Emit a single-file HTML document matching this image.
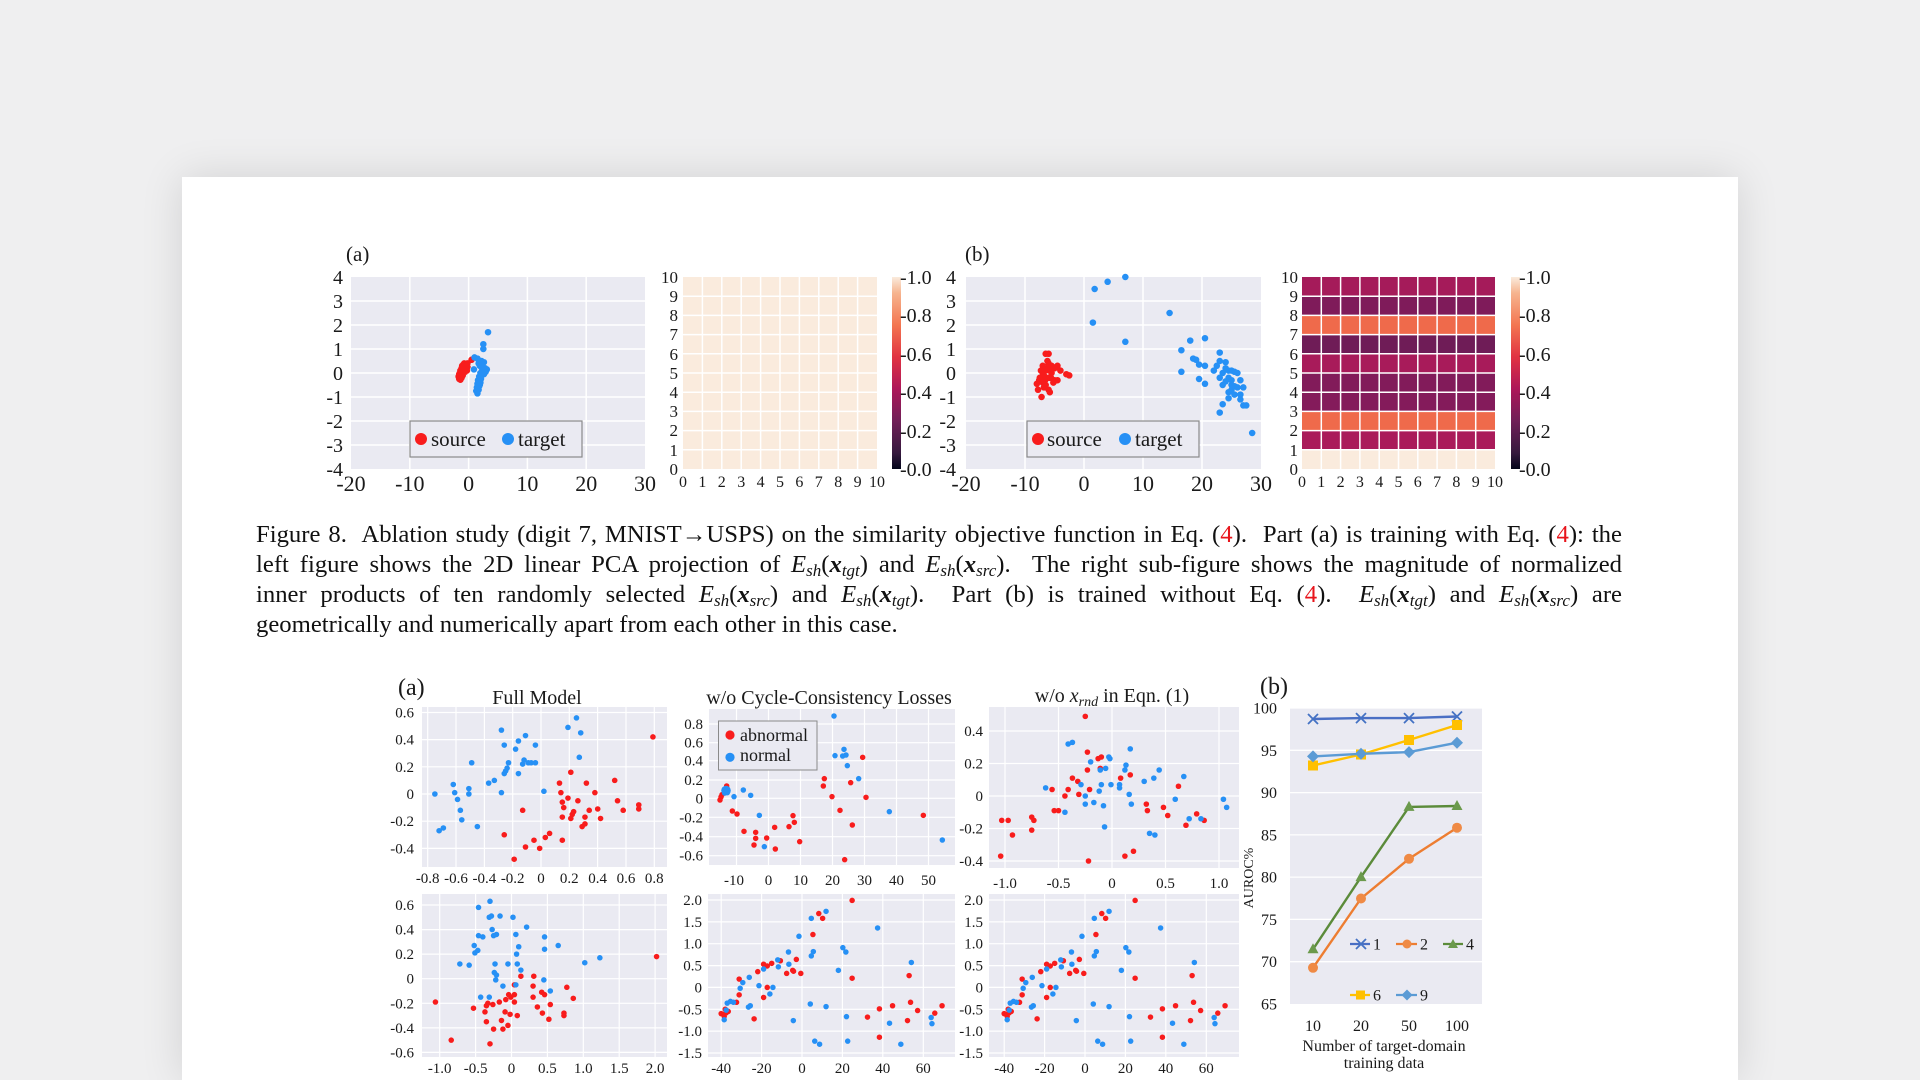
<!DOCTYPE html>
<html><head><meta charset="utf-8">
<style>
html,body{margin:0;padding:0;width:1920px;height:1080px;overflow:hidden}
body{background:#efeff0;position:relative;font-family:"Liberation Serif",serif}
.page{position:absolute;left:182px;top:177px;width:1556px;height:903px;background:#fff;box-shadow:0 0 40px rgba(0,0,0,0.12)}
svg{position:absolute;left:0;top:0}
.cap{position:absolute;left:256px;top:520px;width:1366px;font-family:"Liberation Serif",serif;font-size:24.7px;line-height:30px;color:#111}
.cap div{height:30px;text-align:justify;text-align-last:justify;white-space:nowrap}
.cap div.last{text-align:left;text-align-last:left}
.cap sub{font-size:17px;line-height:0;vertical-align:-4px;font-style:italic}
.cap .E{font-style:italic}
.cap .x{font-style:italic;font-weight:bold}
.cap .r{color:#e8141b}
text{font-family:"Liberation Serif",serif;fill:#1a1a1a}
</style></head>
<body>
<div class="page"></div>
<svg width="1920" height="1080" viewBox="0 0 1920 1080">
<defs>
<linearGradient id="rocket" x1="0" y1="1" x2="0" y2="0">
<stop offset="0" stop-color="#03051a"/>
<stop offset="0.083" stop-color="#35193e"/>
<stop offset="0.25" stop-color="#701f57"/>
<stop offset="0.417" stop-color="#ad1759"/>
<stop offset="0.583" stop-color="#e13342"/>
<stop offset="0.75" stop-color="#f37651"/>
<stop offset="0.917" stop-color="#f6b48f"/>
<stop offset="1" stop-color="#faebdd"/>
</linearGradient>
</defs>

<!-- ============ TOP FIGURE ============ -->
<text x="346" y="261" font-size="21">(a)</text>
<text x="965" y="261" font-size="21">(b)</text>

<!-- Scatter (a) -->
<rect x="351" y="277" width="294" height="192" fill="#eaeaf2"/>
<g stroke="#fff" stroke-width="1.5">
<line x1="409.8" y1="277" x2="409.8" y2="469"/><line x1="468.6" y1="277" x2="468.6" y2="469"/><line x1="527.4" y1="277" x2="527.4" y2="469"/><line x1="586.2" y1="277" x2="586.2" y2="469"/>
<line x1="351" y1="301" x2="645" y2="301"/><line x1="351" y1="325" x2="645" y2="325"/><line x1="351" y1="349" x2="645" y2="349"/><line x1="351" y1="373" x2="645" y2="373"/><line x1="351" y1="397" x2="645" y2="397"/><line x1="351" y1="421" x2="645" y2="421"/><line x1="351" y1="445" x2="645" y2="445"/>
</g>
<g transform="translate(468.6,373) scale(5.88,-24)" fill="none" stroke-linecap="round">
<path vector-effect="non-scaling-stroke" stroke="#f81c1c" stroke-width="6.5" d="M-1.6 -0.25h.01M-1.5 -0.2h.01M-1.4 -0.28h.01M-1.3 -0.15h.01M-1.6 -0.05h.01M-1.5 0h.01M-1.3 0.05h.01M-1.2 -0.05h.01M-1.1 0.1h.01M-1 0.15h.01M-0.9 0.2h.01M-0.8 0.25h.01M-0.7 0.3h.01M-0.6 0.35h.01M-0.45 0.38h.01M-0.3 0.32h.01M-0.2 0.25h.01M-1 -0.1h.01M-0.9 0h.01M-0.8 0.1h.01M-0.6 0.15h.01M-0.5 0.25h.01M-0.4 0.2h.01M-0.3 0.1h.01M-0.6 0.05h.01M-1.2 0.2h.01M-1.1 0.3h.01M-0.9 0.35h.01M-0.75 0.4h.01M-1.4 0.1h.01M0.5 0.55h.01M-0.2 0.4h.01M-1.7 -0.15h.01M-1.2 -0.2h.01"/>
<path vector-effect="non-scaling-stroke" stroke="#2690f5" stroke-width="6.5" d="M3.3 1.7h.01M2.5 1.2h.01M2.5 1h.01M1 0.65h.01M1.5 0.6h.01M2.2 0.5h.01M2.6 0.45h.01M1.9 0.3h.01M2.8 0.2h.01M3.1 0.15h.01M0.9 0.15h.01M2.3 0.1h.01M2.5 0.05h.01M2 0h.01M2.2 -0.1h.01M1.8 -0.15h.01M2.1 -0.25h.01M1.6 -0.3h.01M2 -0.4h.01M1.5 -0.45h.01M1.8 -0.55h.01M1.4 -0.6h.01M1.7 -0.7h.01M1.3 -0.75h.01M1.5 -0.85h.01M2.4 0.3h.01M1.7 0.4h.01M2.9 0.05h.01M2.6 -0.05h.01M1.9 -0.5h.01"/>
</g>
<rect x="410" y="421" width="172" height="36" fill="#eaeaf2" stroke="#8a8a8a" stroke-width="1.2"/>
<circle cx="421" cy="439" r="6" fill="#f81c1c"/><text x="431" y="446" font-size="21">source</text>
<circle cx="508" cy="439" r="6" fill="#2690f5"/><text x="518" y="446" font-size="21">target</text>
<g font-size="20" text-anchor="end">
<text x="343" y="284">4</text><text x="343" y="308">3</text><text x="343" y="332">2</text><text x="343" y="356">1</text><text x="343" y="380">0</text><text x="343" y="404">-1</text><text x="343" y="428">-2</text><text x="343" y="452">-3</text><text x="343" y="476">-4</text>
</g>
<g font-size="22" text-anchor="middle">
<text x="351" y="491">-20</text><text x="409.8" y="491">-10</text><text x="468.6" y="491">0</text><text x="527.4" y="491">10</text><text x="586.2" y="491">20</text><text x="645" y="491">30</text>
</g>

<!-- Heatmap (a) -->
<rect x="683" y="277" width="194" height="192" fill="#faebdd"/>
<g stroke="#fff" stroke-width="1.5">
<line x1="702.4" y1="277" x2="702.4" y2="469"/><line x1="721.8" y1="277" x2="721.8" y2="469"/><line x1="741.2" y1="277" x2="741.2" y2="469"/><line x1="760.6" y1="277" x2="760.6" y2="469"/><line x1="780" y1="277" x2="780" y2="469"/><line x1="799.4" y1="277" x2="799.4" y2="469"/><line x1="818.8" y1="277" x2="818.8" y2="469"/><line x1="838.2" y1="277" x2="838.2" y2="469"/><line x1="857.6" y1="277" x2="857.6" y2="469"/>
<line x1="683" y1="296.2" x2="877" y2="296.2"/><line x1="683" y1="315.4" x2="877" y2="315.4"/><line x1="683" y1="334.6" x2="877" y2="334.6"/><line x1="683" y1="353.8" x2="877" y2="353.8"/><line x1="683" y1="373" x2="877" y2="373"/><line x1="683" y1="392.2" x2="877" y2="392.2"/><line x1="683" y1="411.4" x2="877" y2="411.4"/><line x1="683" y1="430.6" x2="877" y2="430.6"/><line x1="683" y1="449.8" x2="877" y2="449.8"/>
</g>
<g font-size="17" text-anchor="end">
<text x="678" y="283">10</text><text x="678" y="302">9</text><text x="678" y="321">8</text><text x="678" y="340">7</text><text x="678" y="360">6</text><text x="678" y="379">5</text><text x="678" y="398">4</text><text x="678" y="417">3</text><text x="678" y="436">2</text><text x="678" y="456">1</text><text x="678" y="475">0</text>
</g>
<g font-size="16" text-anchor="middle">
<text x="683" y="487">0</text><text x="702.4" y="487">1</text><text x="721.8" y="487">2</text><text x="741.2" y="487">3</text><text x="760.6" y="487">4</text><text x="780" y="487">5</text><text x="799.4" y="487">6</text><text x="818.8" y="487">7</text><text x="838.2" y="487">8</text><text x="857.6" y="487">9</text><text x="877" y="487">10</text>
</g>
<rect x="892" y="277" width="9" height="192" fill="url(#rocket)"/>
<g font-size="20">
<text x="900" y="284">-1.0</text><text x="900" y="322">-0.8</text><text x="900" y="361">-0.6</text><text x="900" y="399">-0.4</text><text x="900" y="438">-0.2</text><text x="900" y="476">-0.0</text>
</g>

<!-- Scatter (b) -->
<rect x="966" y="277" width="295" height="192" fill="#eaeaf2"/>
<g stroke="#fff" stroke-width="1.5">
<line x1="1025" y1="277" x2="1025" y2="469"/><line x1="1084" y1="277" x2="1084" y2="469"/><line x1="1143" y1="277" x2="1143" y2="469"/><line x1="1202" y1="277" x2="1202" y2="469"/>
<line x1="966" y1="301" x2="1261" y2="301"/><line x1="966" y1="325" x2="1261" y2="325"/><line x1="966" y1="349" x2="1261" y2="349"/><line x1="966" y1="373" x2="1261" y2="373"/><line x1="966" y1="397" x2="1261" y2="397"/><line x1="966" y1="421" x2="1261" y2="421"/><line x1="966" y1="445" x2="1261" y2="445"/>
</g>
<g transform="translate(1084,373) scale(5.9,-24)" fill="none" stroke-linecap="round">
<path vector-effect="non-scaling-stroke" stroke="#f81c1c" stroke-width="6.5" d="M-6.5 0.8h.01M-6 0.8h.01M-6 0.4h.01M-5.5 0.3h.01M-5 0.2h.01M-4.5 0.3h.01M-4 0.1h.01M-3 -0.05h.01M-2.5 -0.1h.01M-7 0h.01M-7.5 -0.2h.01M-8 -0.45h.01M-7.8 -0.7h.01M-7.2 -1h.01M-6.5 -0.5h.01M-6 -0.7h.01M-5.8 -0.8h.01M-5 -0.3h.01M-4.5 -0.3h.01M-7 0.3h.01M-6.5 0.1h.01M-6 -0.2h.01M-7 -0.4h.01M-6.8 -0.1h.01M-5.5 0h.01M-6.2 0.5h.01M-7.3 0.1h.01M-6.8 -0.6h.01M-5.2 -0.4h.01M-6.3 0.2h.01M-5.8 0.1h.01M-7.6 -0.3h.01M-6.6 -0.3h.01M-5.6 -0.2h.01M-6.9 0.15h.01"/>
<path vector-effect="non-scaling-stroke" stroke="#2690f5" stroke-width="6.5" d="M1.8 3.5h.01M4 3.8h.01M7 4h.01M1.5 2.1h.01M7 1.3h.01M14.5 2.5h.01M16.5 0.95h.01M18 1.35h.01M20.5 1.45h.01M18.5 0.6h.01M19 0.55h.01M19.5 0.35h.01M20.5 0.3h.01M16.5 0.05h.01M19.5 -0.25h.01M20.5 -0.45h.01M22 0.1h.01M22.5 0.3h.01M23 0.5h.01M23 0.85h.01M24 0.45h.01M24 0.2h.01M23.5 0h.01M24.5 0.1h.01M25 0.1h.01M25.5 0.05h.01M26 0h.01M26.5 -0.3h.01M23 -0.2h.01M24 -0.35h.01M25 -0.5h.01M25.5 -0.55h.01M25 -0.7h.01M24.5 -0.8h.01M26 -0.6h.01M25.5 -0.9h.01M24.5 -1.05h.01M26.5 -0.9h.01M26.5 -1.1h.01M27 -0.6h.01M27 -1.35h.01M27.5 -1.35h.01M23.5 -1.3h.01M23 -1.65h.01M28.5 -2.5h.01M23.5 -0.5h.01M25 -0.3h.01M24.5 -0.2h.01"/>
</g>
<rect x="1027" y="421" width="172" height="36" fill="#eaeaf2" stroke="#8a8a8a" stroke-width="1.2"/>
<circle cx="1038" cy="439" r="6" fill="#f81c1c"/><text x="1047" y="446" font-size="21">source</text>
<circle cx="1125" cy="439" r="6" fill="#2690f5"/><text x="1135" y="446" font-size="21">target</text>
<g font-size="20" text-anchor="end">
<text x="956" y="284">4</text><text x="956" y="308">3</text><text x="956" y="332">2</text><text x="956" y="356">1</text><text x="956" y="380">0</text><text x="956" y="404">-1</text><text x="956" y="428">-2</text><text x="956" y="452">-3</text><text x="956" y="476">-4</text>
</g>
<g font-size="22" text-anchor="middle">
<text x="966" y="491">-20</text><text x="1025" y="491">-10</text><text x="1084" y="491">0</text><text x="1143" y="491">10</text><text x="1202" y="491">20</text><text x="1261" y="491">30</text>
</g>

<!-- Heatmap (b) -->
<rect x="1302" y="277" width="193" height="19.2" fill="#a51b5a"/>
<rect x="1302" y="296.2" width="193" height="19.2" fill="#7f1b5a"/>
<rect x="1302" y="315.4" width="193" height="19.2" fill="#ef6a4b"/>
<rect x="1302" y="334.6" width="193" height="19.2" fill="#6f1c57"/>
<rect x="1302" y="353.8" width="193" height="19.2" fill="#a81b5a"/>
<rect x="1302" y="373" width="193" height="19.2" fill="#821b5a"/>
<rect x="1302" y="392.2" width="193" height="19.2" fill="#841b5b"/>
<rect x="1302" y="411.4" width="193" height="19.2" fill="#ef6a4b"/>
<rect x="1302" y="430.6" width="193" height="19.2" fill="#aa1b5a"/>
<rect x="1302" y="449.8" width="193" height="19.2" fill="#faebdd"/>
<g stroke="#fff" stroke-width="1.5">
<line x1="1321.3" y1="277" x2="1321.3" y2="469"/><line x1="1340.6" y1="277" x2="1340.6" y2="469"/><line x1="1359.9" y1="277" x2="1359.9" y2="469"/><line x1="1379.2" y1="277" x2="1379.2" y2="469"/><line x1="1398.5" y1="277" x2="1398.5" y2="469"/><line x1="1417.8" y1="277" x2="1417.8" y2="469"/><line x1="1437.1" y1="277" x2="1437.1" y2="469"/><line x1="1456.4" y1="277" x2="1456.4" y2="469"/><line x1="1475.7" y1="277" x2="1475.7" y2="469"/>
<line x1="1302" y1="296.2" x2="1495" y2="296.2"/><line x1="1302" y1="315.4" x2="1495" y2="315.4"/><line x1="1302" y1="334.6" x2="1495" y2="334.6"/><line x1="1302" y1="353.8" x2="1495" y2="353.8"/><line x1="1302" y1="373" x2="1495" y2="373"/><line x1="1302" y1="392.2" x2="1495" y2="392.2"/><line x1="1302" y1="411.4" x2="1495" y2="411.4"/><line x1="1302" y1="430.6" x2="1495" y2="430.6"/><line x1="1302" y1="449.8" x2="1495" y2="449.8"/>
</g>
<g font-size="17" text-anchor="end">
<text x="1298" y="283">10</text><text x="1298" y="302">9</text><text x="1298" y="321">8</text><text x="1298" y="340">7</text><text x="1298" y="360">6</text><text x="1298" y="379">5</text><text x="1298" y="398">4</text><text x="1298" y="417">3</text><text x="1298" y="436">2</text><text x="1298" y="456">1</text><text x="1298" y="475">0</text>
</g>
<g font-size="16" text-anchor="middle">
<text x="1302" y="487">0</text><text x="1321.3" y="487">1</text><text x="1340.6" y="487">2</text><text x="1359.9" y="487">3</text><text x="1379.2" y="487">4</text><text x="1398.5" y="487">5</text><text x="1417.8" y="487">6</text><text x="1437.1" y="487">7</text><text x="1456.4" y="487">8</text><text x="1475.7" y="487">9</text><text x="1495" y="487">10</text>
</g>
<rect x="1511" y="277" width="9" height="192" fill="url(#rocket)"/>
<g font-size="20">
<text x="1519" y="284">-1.0</text><text x="1519" y="322">-0.8</text><text x="1519" y="361">-0.6</text><text x="1519" y="399">-0.4</text><text x="1519" y="438">-0.2</text><text x="1519" y="476">-0.0</text>
</g>

<!-- ============ BOTTOM FIGURE ============ -->
<text x="398" y="695" font-size="24">(a)</text>
<text x="1260" y="694" font-size="24">(b)</text>
<text x="537" y="704" font-size="20" text-anchor="middle">Full Model</text>
<text x="829" y="704" font-size="20" text-anchor="middle">w/o Cycle-Consistency Losses</text>
<text x="1112" y="702" font-size="20" text-anchor="middle">w/o <tspan font-style="italic">x</tspan><tspan font-style="italic" font-size="14" dy="4">rnd</tspan><tspan dy="-4"> in Eqn. (1)</tspan></text>

<!-- P1 -->
<rect x="422" y="707" width="245" height="160" fill="#eaeaf2"/>
<g stroke="#fff" stroke-width="1.2">
<line x1="427.7" y1="707" x2="427.7" y2="867"/><line x1="456" y1="707" x2="456" y2="867"/><line x1="484.4" y1="707" x2="484.4" y2="867"/><line x1="512.7" y1="707" x2="512.7" y2="867"/><line x1="541" y1="707" x2="541" y2="867"/><line x1="569.3" y1="707" x2="569.3" y2="867"/><line x1="597.6" y1="707" x2="597.6" y2="867"/><line x1="626" y1="707" x2="626" y2="867"/><line x1="654.3" y1="707" x2="654.3" y2="867"/>
<line x1="422" y1="712.5" x2="667" y2="712.5"/><line x1="422" y1="739.6" x2="667" y2="739.6"/><line x1="422" y1="766.8" x2="667" y2="766.8"/><line x1="422" y1="794" x2="667" y2="794"/><line x1="422" y1="821.2" x2="667" y2="821.2"/><line x1="422" y1="848.4" x2="667" y2="848.4"/>
</g>
<g transform="translate(541,794) scale(141.6,-135.9)" fill="none" stroke-linecap="round">
<path vector-effect="non-scaling-stroke" stroke="#f81c1c" stroke-width="5.5" d="M0.79 0.42h.001M0.52 0.1h.001M0.54 -0.05h.001M0.58 -0.12h.001M0.69 -0.08h.001M0.69 -0.11h.001M0.38 0.01h.001M0.32 0.08h.001M0.4 -0.11h.001M0.42 -0.18h.001M0.34 -0.12h.001M0.31 -0.17h.001M0.31 -0.22h.001M0.29 -0.24h.001M0.26 -0.05h.001M0.23 -0.13h.001M0.22 -0.15h.001M0.21 -0.18h.001M0.19 -0.03h.001M0.21 0.16h.001M0.13 0.08h.001M0.14 0.01h.001M0.15 -0.06h.001M0.16 -0.1h.001M0.15 -0.17h.001M0.15 -0.34h.001M0.06 -0.29h.001M0.03 -0.32h.001M-0.01 -0.4h.001M-0.05 -0.34h.001M-0.11 -0.39h.001M-0.19 -0.48h.001M-0.26 -0.3h.001M-0.13 -0.12h.001"/>
<path vector-effect="non-scaling-stroke" stroke="#2690f5" stroke-width="5.5" d="M-0.75 0h.001M-0.72 -0.27h.001M-0.69 -0.25h.001M-0.62 0.07h.001M-0.61 0.01h.001M-0.59 -0.04h.001M-0.57 -0.12h.001M-0.56 -0.19h.001M-0.51 0.04h.001M-0.51 0h.001M-0.49 0.23h.001M-0.45 -0.24h.001M-0.37 0.08h.001M-0.33 0.1h.001M-0.28 0.01h.001M-0.28 0.47h.001M-0.26 0.36h.001M-0.26 0.15h.001M-0.25 0.17h.001M-0.24 0.19h.001M-0.23 0.23h.001M-0.18 0.33h.001M-0.16 0.39h.001M-0.16 0.15h.001M-0.13 0.22h.001M-0.12 0.25h.001M-0.11 0.43h.001M-0.09 0.23h.001M-0.07 0.23h.001M-0.04 0.36h.001M-0.04 0.23h.001M0.02 0.02h.001M0.19 0.49h.001M0.25 0.56h.001M0.28 0.45h.001M0.27 0.27h.001"/>
</g>
<g font-size="15" text-anchor="end">
<text x="414" y="717.5">0.6</text><text x="414" y="744.6">0.4</text><text x="414" y="771.8">0.2</text><text x="414" y="799">0</text><text x="414" y="826.2">-0.2</text><text x="414" y="853.4">-0.4</text>
</g>
<g font-size="15" text-anchor="middle">
<text x="427.7" y="883">-0.8</text><text x="456" y="883">-0.6</text><text x="484.4" y="883">-0.4</text><text x="512.7" y="883">-0.2</text><text x="541" y="883">0</text><text x="569.3" y="883">0.2</text><text x="597.6" y="883">0.4</text><text x="626" y="883">0.6</text><text x="654.3" y="883">0.8</text>
</g>

<!-- P2 -->
<rect x="709" y="709" width="246" height="156" fill="#eaeaf2"/>
<g stroke="#fff" stroke-width="1.2">
<line x1="736.5" y1="709" x2="736.5" y2="865"/><line x1="768.5" y1="709" x2="768.5" y2="865"/><line x1="800.5" y1="709" x2="800.5" y2="865"/><line x1="832.5" y1="709" x2="832.5" y2="865"/><line x1="864.5" y1="709" x2="864.5" y2="865"/><line x1="896.5" y1="709" x2="896.5" y2="865"/><line x1="928.5" y1="709" x2="928.5" y2="865"/>
<line x1="709" y1="724" x2="955" y2="724"/><line x1="709" y1="742.7" x2="955" y2="742.7"/><line x1="709" y1="760.7" x2="955" y2="760.7"/><line x1="709" y1="780" x2="955" y2="780"/><line x1="709" y1="798.3" x2="955" y2="798.3"/><line x1="709" y1="817.3" x2="955" y2="817.3"/><line x1="709" y1="836.7" x2="955" y2="836.7"/><line x1="709" y1="855.7" x2="955" y2="855.7"/>
</g>
<g transform="translate(690,700) scale(0.33333)" fill="none" stroke-linecap="round">
<path vector-effect="non-scaling-stroke" stroke="#f81c1c" stroke-width="5.5" d="M90 300h.01M93 291h.01M96 284h.01M110 258h.01M127 333h.01M141 342h.01M162 394h.01M197 397h.01M197 415h.01M192 435h.01M230 414h.01M254 382h.01M256 447h.01M297 380h.01M309 347h.01M313 367h.01M329 425h.01M400 258h.01M403 236h.01M426 290h.01M450 331h.01M482 248h.01M487 375h.01M518 172h.01M528 292h.01M464 479h.01M700 346h.01"/>
<path vector-effect="non-scaling-stroke" stroke="#2690f5" stroke-width="5.5" d="M432 48h.01M435 167h.01M462 148h.01M468 165h.01M458 168h.01M472 197h.01M506 236h.01M598 335h.01M757 420h.01M160 270h.01M182 286h.01M132 290h.01M208 346h.01M223 440h.01M103 273h.01M112 268h.01M112 278h.01M104 279h.01"/>
</g>
<circle cx="726" cy="790.5" r="4.8" fill="#2690f5"/>
<rect x="718.5" y="721" width="98.5" height="49" fill="#eaeaf2" stroke="#8a8a8a" stroke-width="1"/>
<circle cx="730" cy="735" r="4.6" fill="#f81c1c"/><text x="740" y="741" font-size="18">abnormal</text>
<circle cx="730" cy="757.3" r="4.6" fill="#2690f5"/><text x="740" y="761" font-size="18">normal</text>
<g font-size="15" text-anchor="end">
<text x="703" y="729">0.8</text><text x="703" y="747.7">0.6</text><text x="703" y="765.7">0.4</text><text x="703" y="785">0.2</text><text x="703" y="803.3">0</text><text x="703" y="822.3">-0.2</text><text x="703" y="841.7">-0.4</text><text x="703" y="860.7">-0.6</text>
</g>
<g font-size="15" text-anchor="middle">
<text x="734" y="885">-10</text><text x="768.5" y="885">0</text><text x="800.5" y="885">10</text><text x="832.5" y="885">20</text><text x="864.5" y="885">30</text><text x="896.5" y="885">40</text><text x="928.5" y="885">50</text>
</g>

<!-- P3 -->
<rect x="989" y="707" width="250" height="161" fill="#eaeaf2"/>
<g stroke="#fff" stroke-width="1.2">
<line x1="1005" y1="707" x2="1005" y2="868"/><line x1="1058.5" y1="707" x2="1058.5" y2="868"/><line x1="1112" y1="707" x2="1112" y2="868"/><line x1="1165.5" y1="707" x2="1165.5" y2="868"/><line x1="1219" y1="707" x2="1219" y2="868"/>
<line x1="989" y1="731" x2="1239" y2="731"/><line x1="989" y1="763.5" x2="1239" y2="763.5"/><line x1="989" y1="796" x2="1239" y2="796"/><line x1="989" y1="828.5" x2="1239" y2="828.5"/><line x1="989" y1="861" x2="1239" y2="861"/>
</g>
<g transform="translate(1112,796) scale(107.1,-162.5)" fill="none" stroke-linecap="round">
<path vector-effect="non-scaling-stroke" stroke="#f81c1c" stroke-width="5.5" d="M-0.25 0.49h.001M-0.23 0.27h.001M-0.23 0.16h.001M-0.13 0.23h.001M-0.1 0.24h.001M-0.11 0.17h.001M-0.37 0.11h.001M-0.32 0.09h.001M-0.41 0.04h.001M-0.31 0.01h.001M-0.21 0.04h.001M-0.44 0h.001M-0.54 -0.09h.001M-0.5 -0.09h.001M-0.56 0.04h.001M-1.03 -0.15h.001M-0.97 -0.15h.001M-0.93 -0.24h.001M-0.75 -0.13h.001M-0.73 -0.15h.001M-0.75 -0.21h.001M-1.04 -0.37h.001M-0.22 -0.4h.001M0.08 0.11h.001M0.17 0.13h.001M0.2 -0.34h.001M0.12 -0.37h.001M0.32 -0.05h.001M0.33 -0.09h.001M0.48 -0.07h.001M0.52 -0.12h.001M0.62 0.06h.001M0.69 -0.18h.001M0.79 -0.11h.001M0.86 -0.15h.001"/>
<path vector-effect="non-scaling-stroke" stroke="#2690f5" stroke-width="5.5" d="M-0.41 0.32h.001M-0.37 0.33h.001M-0.62 0.05h.001M-0.44 -0.1h.001M-0.29 0.07h.001M-0.25 0h.001M-0.25 -0.05h.001M-0.2 0.21h.001M-0.17 -0.04h.001M-0.12 0.03h.001M-0.11 0.16h.001M-0.1 0.07h.001M-0.08 -0.06h.001M-0.07 -0.19h.001M-0.06 0.17h.001M-0.03 0.24h.001M-0.02 0.23h.001M-0.01 0.07h.001M0.07 0.07h.001M0.07 0.05h.001M0.12 0.16h.001M0.13 0.19h.001M0.16 0.01h.001M0.17 0.29h.001M0.18 -0.05h.001M0.3 0.09h.001M0.39 0.11h.001M0.44 0.16h.001M0.35 -0.23h.001M0.4 -0.24h.001M0.59 -0.02h.001M0.67 0.12h.001M0.72 -0.14h.001M0.83 -0.14h.001M1.04 -0.02h.001M1.07 -0.07h.001"/>
</g>
<g font-size="15" text-anchor="end">
<text x="983" y="736">0.4</text><text x="983" y="768.5">0.2</text><text x="983" y="801">0</text><text x="983" y="833.5">-0.2</text><text x="983" y="866">-0.4</text>
</g>
<g font-size="15" text-anchor="middle">
<text x="1005" y="888">-1.0</text><text x="1058.5" y="888">-0.5</text><text x="1112" y="888">0</text><text x="1165.5" y="888">0.5</text><text x="1219" y="888">1.0</text>
</g>

<!-- P4 -->
<rect x="422" y="894" width="245" height="163" fill="#eaeaf2"/>
<g stroke="#fff" stroke-width="1.2">
<line x1="439.7" y1="894" x2="439.7" y2="1057"/><line x1="475.6" y1="894" x2="475.6" y2="1057"/><line x1="511.5" y1="894" x2="511.5" y2="1057"/><line x1="547.4" y1="894" x2="547.4" y2="1057"/><line x1="583.3" y1="894" x2="583.3" y2="1057"/><line x1="619.2" y1="894" x2="619.2" y2="1057"/><line x1="655.1" y1="894" x2="655.1" y2="1057"/>
<line x1="422" y1="905" x2="667" y2="905"/><line x1="422" y1="929.6" x2="667" y2="929.6"/><line x1="422" y1="954.1" x2="667" y2="954.1"/><line x1="422" y1="978.7" x2="667" y2="978.7"/><line x1="422" y1="1003.3" x2="667" y2="1003.3"/><line x1="422" y1="1027.9" x2="667" y2="1027.9"/><line x1="422" y1="1052.4" x2="667" y2="1052.4"/>
</g>
<g transform="translate(511.5,978.7) scale(71.8,-122.9)" fill="none" stroke-linecap="round">
<path vector-effect="non-scaling-stroke" stroke="#f81c1c" stroke-width="5.5" d="M2.02 0.18h.001M-1.06 -0.19h.001M-0.84 -0.5h.001M-0.53 -0.24h.001M-0.35 -0.22h.001M-0.33 -0.2h.001M-0.37 -0.27h.001M-0.35 -0.35h.001M-0.25 -0.41h.001M-0.3 -0.53h.001M-0.17 -0.19h.001M-0.14 -0.34h.001M-0.12 -0.41h.001M-0.05 -0.38h.001M-0.09 -0.27h.001M-0.08 -0.17h.001M-0.04 -0.13h.001M-0.01 -0.15h.001M0.04 -0.13h.001M0.04 -0.19h.001M-0.02 -0.29h.001M0.08 -0.3h.001M0.04 -0.05h.001M0.13 0.02h.001M0.3 -0.06h.001M0.31 0.02h.001M0.3 -0.15h.001M0.36 -0.23h.001M0.42 -0.11h.001M0.46 -0.13h.001M0.43 -0.28h.001M0.54 -0.21h.001M0.52 -0.33h.001M0.73 -0.28h.001M0.73 -0.3h.001M0.77 -0.07h.001M0.86 -0.16h.001M-0.26 -0.21h.001"/>
<path vector-effect="non-scaling-stroke" stroke="#2690f5" stroke-width="5.5" d="M-0.3 0.63h.001M-0.46 0.58h.001M-0.31 0.5h.001M-0.28 0.51h.001M-0.16 0.51h.001M0.02 0.5h.001M0.21 0.42h.001M-0.27 0.4h.001M-0.46 0.35h.001M-0.4 0.34h.001M-0.25 0.35h.001M-0.21 0.36h.001M0.06 0.36h.001M0.46 0.34h.001M0.46 0.24h.001M-0.52 0.27h.001M-0.47 0.23h.001M-0.51 0.21h.001M0.1 0.26h.001M0.65 0.27h.001M-0.72 0.12h.001M-0.59 0.11h.001M-0.23 0.12h.001M-0.05 0.12h.001M0.07 0.2h.001M0.08 0.12h.001M0.13 0.07h.001M-0.24 0.05h.001M-0.21 0.03h.001M-0.22 -0.01h.001M-0.12 -0.06h.001M0.06 -0.05h.001M0.45 -0.01h.001M0.54 -0.1h.001M-0.43 -0.15h.001M-0.31 -0.15h.001M1.02 0.13h.001M1.23 0.17h.001"/>
</g>
<g font-size="15" text-anchor="end">
<text x="414" y="910">0.6</text><text x="414" y="934.6">0.4</text><text x="414" y="959.1">0.2</text><text x="414" y="983.7">0</text><text x="414" y="1008.3">-0.2</text><text x="414" y="1032.9">-0.4</text><text x="414" y="1057.4">-0.6</text>
</g>
<g font-size="15" text-anchor="middle">
<text x="439.7" y="1073">-1.0</text><text x="475.6" y="1073">-0.5</text><text x="511.5" y="1073">0</text><text x="547.4" y="1073">0.5</text><text x="583.3" y="1073">1.0</text><text x="619.2" y="1073">1.5</text><text x="655.1" y="1073">2.0</text>
</g>

<!-- P5 -->
<rect x="708" y="894" width="247" height="163" fill="#eaeaf2"/>
<g stroke="#fff" stroke-width="1.2">
<line x1="721.2" y1="894" x2="721.2" y2="1057"/><line x1="761.6" y1="894" x2="761.6" y2="1057"/><line x1="802" y1="894" x2="802" y2="1057"/><line x1="842.4" y1="894" x2="842.4" y2="1057"/><line x1="882.8" y1="894" x2="882.8" y2="1057"/><line x1="923.3" y1="894" x2="923.3" y2="1057"/>
<line x1="708" y1="900" x2="955" y2="900"/><line x1="708" y1="921.9" x2="955" y2="921.9"/><line x1="708" y1="943.7" x2="955" y2="943.7"/><line x1="708" y1="965.6" x2="955" y2="965.6"/><line x1="708" y1="987.4" x2="955" y2="987.4"/><line x1="708" y1="1009.3" x2="955" y2="1009.3"/><line x1="708" y1="1031.1" x2="955" y2="1031.1"/><line x1="708" y1="1053" x2="955" y2="1053"/>
</g>
<g id="p5pts" transform="translate(802,987.4) scale(2.021,-43.7)" fill="none" stroke-linecap="round">
<path vector-effect="non-scaling-stroke" stroke="#f81c1c" stroke-width="5.5" d="M24.8 1.99h.01M8.3 1.69h.01M10.2 1.58h.01M5.4 1.21h.01M-2.8 0.64h.01M-10.7 0.61h.01M-15 0.55h.01M-17.2 0.49h.01M-19 0.53h.01M-21.9 0.36h.01M-7.6 0.32h.01M-4.6 0.39h.01M-4.2 0.37h.01M-0.6 0.32h.01M-31.1 0.19h.01M-17.2 0h.01M-31.1 -0.17h.01M-32.4 -0.34h.01M-19 -0.23h.01M-23.7 -0.72h.01M-40 -0.6h.01M-39 -0.62h.01M-38 -0.5h.01M-37.5 -0.58h.01M-36.5 -0.55h.01M-38.5 -0.66h.01M24.8 0.21h.01M53 0.27h.01M32.4 -0.68h.01M38.3 -0.49h.01M38.3 -1.14h.01M44.8 -0.42h.01M52.2 -0.76h.01M53.7 -0.34h.01M57.2 -0.53h.01M65.7 -0.59h.01M69.3 -0.42h.01"/>
<path vector-effect="non-scaling-stroke" stroke="#2690f5" stroke-width="5.5" d="M11.9 1.74h.01M4.6 1.58h.01M-1.5 1.17h.01M37.4 1.36h.01M-6.7 0.81h.01M5.6 0.82h.01M4.6 0.72h.01M20.2 0.91h.01M21.7 0.81h.01M-12 0.63h.01M-6.5 0.53h.01M-11.7 0.47h.01M18 0.39h.01M-19 0.42h.01M54.1 0.57h.01M-26.1 0.23h.01M-21.3 0.04h.01M-14.4 0h.01M-15.9 -0.15h.01M-29.3 0.11h.01M-30.6 -0.02h.01M-33.9 -0.34h.01M-35.4 -0.32h.01M-37 -0.36h.01M-25.6 -0.42h.01M-26.5 -0.45h.01M-38.5 -0.74h.01M-37.5 -0.52h.01M4.1 -0.38h.01M11.9 -0.44h.01M-4.3 -0.76h.01M6.3 -1.23h.01M8.7 -1.3h.01M22.6 -1.23h.01M22 -0.67h.01M43.3 -0.82h.01M48.9 -1.3h.01M63.9 -0.69h.01M64.3 -0.83h.01"/>
</g>
<g font-size="15" text-anchor="end">
<text x="702" y="905">2.0</text><text x="702" y="926.9">1.5</text><text x="702" y="948.7">1.0</text><text x="702" y="970.6">0.5</text><text x="702" y="992.4">0</text><text x="702" y="1014.3">-0.5</text><text x="702" y="1036.1">-1.0</text><text x="702" y="1058">-1.5</text>
</g>
<g font-size="15" text-anchor="middle">
<text x="721.2" y="1073">-40</text><text x="761.6" y="1073">-20</text><text x="802" y="1073">0</text><text x="842.4" y="1073">20</text><text x="882.8" y="1073">40</text><text x="923.3" y="1073">60</text>
</g>

<!-- P6 -->
<rect x="989" y="894" width="250" height="163" fill="#eaeaf2"/>
<g stroke="#fff" stroke-width="1.2">
<line x1="1004.2" y1="894" x2="1004.2" y2="1057"/><line x1="1044.6" y1="894" x2="1044.6" y2="1057"/><line x1="1085" y1="894" x2="1085" y2="1057"/><line x1="1125.4" y1="894" x2="1125.4" y2="1057"/><line x1="1165.8" y1="894" x2="1165.8" y2="1057"/><line x1="1206.3" y1="894" x2="1206.3" y2="1057"/>
<line x1="989" y1="900" x2="1239" y2="900"/><line x1="989" y1="921.9" x2="1239" y2="921.9"/><line x1="989" y1="943.7" x2="1239" y2="943.7"/><line x1="989" y1="965.6" x2="1239" y2="965.6"/><line x1="989" y1="987.4" x2="1239" y2="987.4"/><line x1="989" y1="1009.3" x2="1239" y2="1009.3"/><line x1="989" y1="1031.1" x2="1239" y2="1031.1"/><line x1="989" y1="1053" x2="1239" y2="1053"/>
</g>
<use href="#p5pts" transform="translate(283,0)"/>
<g font-size="15" text-anchor="end">
<text x="983" y="905">2.0</text><text x="983" y="926.9">1.5</text><text x="983" y="948.7">1.0</text><text x="983" y="970.6">0.5</text><text x="983" y="992.4">0</text><text x="983" y="1014.3">-0.5</text><text x="983" y="1036.1">-1.0</text><text x="983" y="1058">-1.5</text>
</g>
<g font-size="15" text-anchor="middle">
<text x="1004.2" y="1073">-40</text><text x="1044.6" y="1073">-20</text><text x="1085" y="1073">0</text><text x="1125.4" y="1073">20</text><text x="1165.8" y="1073">40</text><text x="1206.3" y="1073">60</text>
</g>

<!-- Chart (b) -->
<rect x="1290" y="708" width="192" height="296" fill="#eaeaf2"/>
<g stroke="#fff" stroke-width="1.3">
<line x1="1290" y1="708" x2="1482" y2="708"/><line x1="1290" y1="750.3" x2="1482" y2="750.3"/><line x1="1290" y1="792.6" x2="1482" y2="792.6"/><line x1="1290" y1="834.9" x2="1482" y2="834.9"/><line x1="1290" y1="877.1" x2="1482" y2="877.1"/><line x1="1290" y1="919.4" x2="1482" y2="919.4"/><line x1="1290" y1="961.7" x2="1482" y2="961.7"/>
</g>
<g fill="none" stroke-width="2.4" stroke-linejoin="round">
<polyline stroke="#4a6fc4" points="1313,719 1361,718.1 1409,718.1 1457,716.5"/>
<polyline stroke="#ed7d31" points="1313,967.8 1361,898.5 1409,858.8 1457,827.7"/>
<polyline stroke="#5b8b3a" points="1313,949.3 1361,877.1 1409,806.9 1457,806"/>
<polyline stroke="#ffc000" points="1313,765.5 1361,754.5 1409,740 1457,725"/>
<polyline stroke="#5b9bd5" points="1313,756.4 1361,753.8 1409,752.1 1457,742.7"/>
</g>
<g stroke="#4472c4" stroke-width="1.8">
<path d="M1308 714l10 10M1318 714l-10 10M1356 713.1l10 10M1366 713.1l-10 10M1404 713.1l10 10M1414 713.1l-10 10M1452 711.5l10 10M1462 711.5l-10 10"/>
</g>
<g fill="#ef8a45"><circle cx="1313" cy="967.8" r="5"/><circle cx="1361" cy="898.5" r="5"/><circle cx="1409" cy="858.8" r="5"/><circle cx="1457" cy="827.7" r="5"/></g>
<g fill="#6b9a4c"><path d="M1313 943.3l5.5 10h-11z"/><path d="M1361 871.1l5.5 10h-11z"/><path d="M1409 800.9l5.5 10h-11z"/><path d="M1457 800l5.5 10h-11z"/></g>
<g fill="#ffc000"><rect x="1308" y="760.5" width="10" height="10"/><rect x="1356" y="749.5" width="10" height="10"/><rect x="1404" y="735" width="10" height="10"/><rect x="1452" y="720" width="10" height="10"/></g>
<g fill="#5b9bd5"><path d="M1313 750.4l6 6l-6 6l-6 -6z"/><path d="M1361 747.8l6 6l-6 6l-6 -6z"/><path d="M1409 746.1l6 6l-6 6l-6 -6z"/><path d="M1457 736.7l6 6l-6 6l-6 -6z"/></g>
<!-- legend -->
<g stroke-width="2.2">
<line x1="1350" y1="944" x2="1370" y2="944" stroke="#4a6fc4"/>
<path d="M1356 939l10 10M1366 939l-10 10" stroke="#4472c4" stroke-width="1.8"/>
<line x1="1396" y1="944" x2="1417" y2="944" stroke="#ed7d31"/>
<line x1="1443" y1="944" x2="1463" y2="944" stroke="#5b8b3a"/>
<line x1="1350" y1="995" x2="1370" y2="995" stroke="#ffc000"/>
<line x1="1396" y1="995" x2="1417" y2="995" stroke="#5b9bd5"/>
</g>
<circle cx="1407" cy="944" r="4.5" fill="#ef8a45"/>
<path d="M1453 939l5 9h-10z" fill="#6b9a4c"/>
<rect x="1356" y="990.5" width="9" height="9" fill="#ffc000"/>
<path d="M1407 989.5l5.5 5.5l-5.5 5.5l-5.5 -5.5z" fill="#5b9bd5"/>
<g font-size="16">
<text x="1373" y="949.5">1</text><text x="1420" y="949.5">2</text><text x="1466" y="949.5">4</text>
<text x="1373" y="1000.5">6</text><text x="1420" y="1000.5">9</text>
</g>
<g font-size="16" text-anchor="end">
<text x="1277" y="713.5">100</text><text x="1277" y="755.8">95</text><text x="1277" y="798.1">90</text><text x="1277" y="840.4">85</text><text x="1277" y="882.6">80</text><text x="1277" y="924.9">75</text><text x="1277" y="967.2">70</text><text x="1277" y="1009.5">65</text>
</g>
<g font-size="16" text-anchor="middle">
<text x="1313" y="1031">10</text><text x="1361" y="1031">20</text><text x="1409" y="1031">50</text><text x="1457" y="1031">100</text>
<text x="1384" y="1051">Number of target-domain</text>
<text x="1384" y="1068">training data</text>
</g>
<text x="0" y="0" font-size="14" text-anchor="middle" transform="translate(1253,878) rotate(-90)">AUROC%</text>
</svg>

<div class="cap">
<div>Figure 8.&nbsp; Ablation study (digit 7, MNIST→USPS) on the similarity objective function in Eq. (<span class="r">4</span>).&nbsp; Part (a) is training with Eq. (<span class="r">4</span>): the</div>
<div>left figure shows the 2D linear PCA projection of <span class="E">E</span><sub>sh</sub>(<span class="x">x</span><sub>tgt</sub>) and <span class="E">E</span><sub>sh</sub>(<span class="x">x</span><sub>src</sub>).&nbsp; The right sub-figure shows the magnitude of normalized</div>
<div>inner products of ten randomly selected <span class="E">E</span><sub>sh</sub>(<span class="x">x</span><sub>src</sub>) and <span class="E">E</span><sub>sh</sub>(<span class="x">x</span><sub>tgt</sub>).&nbsp; Part (b) is trained without Eq. (<span class="r">4</span>).&nbsp; <span class="E">E</span><sub>sh</sub>(<span class="x">x</span><sub>tgt</sub>) and <span class="E">E</span><sub>sh</sub>(<span class="x">x</span><sub>src</sub>) are</div>
<div class="last">geometrically and numerically apart from each other in this case.</div>
</div>
</body></html>
